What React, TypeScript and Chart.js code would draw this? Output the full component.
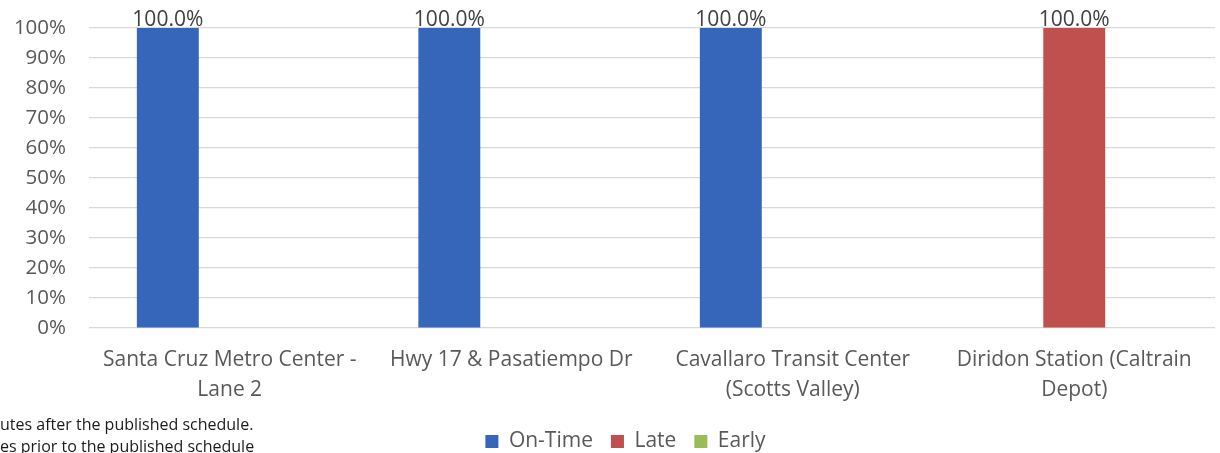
import React, { useEffect, useRef } from "react";
import { Chart, registerables } from "chart.js";

Chart.register(...registerables);

const categories: string[][] = [
  ["Santa Cruz Metro Center -", "Lane 2"],
  ["Hwy 17 & Pasatiempo Dr"],
  ["Cavallaro Transit Center", "(Scotts Valley)"],
  ["Diridon Station (Caltrain", "Depot)"],
];
const onTime = [1, 1, 1, 0];
const late = [0, 0, 0, 1];
const early = [0, 0, 0, 0];
const seriesNames = ["On-Time", "Late", "Early"];
const seriesColors = ["#3566BA", "#C0504D", "#9BBB59"];
const footnotes = ["utes after the published schedule.", "es prior to the published schedule"];

const FONT = "'Open Sans', sans-serif";

const labelPlugin = {
  id: "valueLabels",
  afterLayout(chart: any) {
    const lg = chart.legend;
    if (lg) {
      lg.left += 18;
      lg.right += 18;
      lg.top += 1;
      lg.bottom += 1;
    }
  },
  afterDatasetsDraw(chart: any) {
    const ctx = chart.ctx;
    ctx.save();
    ctx.font = `21px ${FONT}`;
    ctx.fillStyle = "#404040";
    ctx.textAlign = "center";
    ctx.textBaseline = "alphabetic";
    chart.data.datasets.forEach((ds: any, i: number) => {
      const meta = chart.getDatasetMeta(i);
      meta.data.forEach((el: any, j: number) => {
        const v = ds.data[j];
        if (v > 0) {
          ctx.fillText((v * 100).toFixed(1) + "%", el.x, el.y - 2);
        }
      });
    });
    ctx.restore();
  },
};

export default function App() {
  const ref = useRef<HTMLCanvasElement | null>(null);
  useEffect(() => {
    document.body.style.margin = "0";
    if (!ref.current) return;
    const chart = new Chart(ref.current, {
      type: "bar",
      data: {
        labels: categories as any,
        datasets: [onTime, late, early].map((d, i) => ({
          label: seriesNames[i],
          data: d,
          backgroundColor: seriesColors[i],
          borderWidth: 0,
          categoryPercentage: 0.66,
          barPercentage: 1,
        })),
      },
      options: {
        responsive: false,
        animation: false,
        devicePixelRatio: 1,
        layout: { padding: { top: 28, right: 5, bottom: -8, left: 0 } },
        plugins: {
          legend: {
            position: "bottom",
            labels: {
              boxWidth: 13,
              boxHeight: 13,
              padding: 18,
              color: "#595959",
              font: { family: FONT, size: 21 },
            },
          },
          tooltip: { enabled: false },
        },
        scales: {
          x: {
            grid: { display: false },
            border: { display: false },
            ticks: {
              color: "#595959",
              font: { family: FONT, size: 21, lineHeight: 1.43 },
              padding: 9,
              maxRotation: 0,
              autoSkip: false,
            },
            afterFit: (s: any) => {
              s.height = 84;
            },
          },
          y: {
            min: 0,
            max: 1,
            border: { display: false },
            grid: { color: "#D9D9D9", lineWidth: 1.2, drawTicks: false },
            ticks: {
              stepSize: 0.1,
              color: "#595959",
              font: { family: FONT, size: 20.5 },
              padding: 23,
              callback: (v: any) => Math.round(Number(v) * 100) + "%",
            },
            afterFit: (s: any) => {
              s.width = 89;
              s.paddingTop = 0;
              s.paddingBottom = 0;
            },
          },
        },
      },
      plugins: [labelPlugin],
    });
    return () => chart.destroy();
  }, []);
  return (
    <div style={{ position: "relative", width: 1220, height: 453, overflow: "hidden", background: "#fff" }}>
      <canvas ref={ref} width={1220} height={453} style={{ display: "block" }} />
      {footnotes.map((t, i) => (
        <div
          key={i}
          style={{
            position: "absolute",
            left: 0,
            top: 413 + i * 22,
            font: `16px ${FONT}`,
            lineHeight: "22px",
            color: "#1a1a1a",
            whiteSpace: "nowrap",
          }}
        >
          {t}
        </div>
      ))}
    </div>
  );
}
